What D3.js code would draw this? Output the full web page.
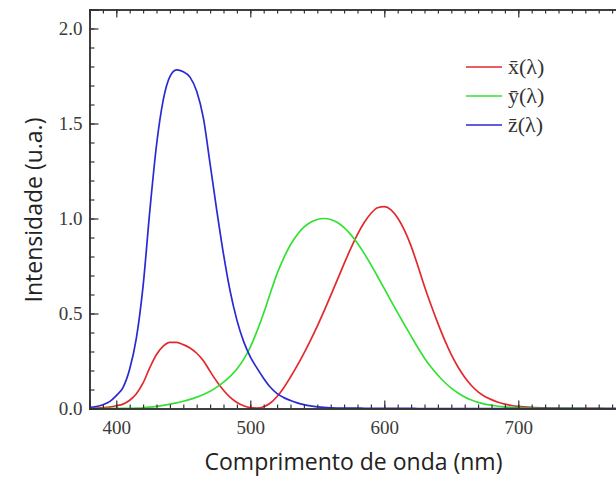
<!DOCTYPE html>
<html><head><meta charset="utf-8">
<script src="https://cdn.jsdelivr.net/npm/d3@7"></script>
<style>
html,body{margin:0;padding:0;background:#fff;}
svg{display:block;}
</style></head>
<body><svg id="chart" width="616" height="478"></svg>
<script>
// CIE 1931 2° colour matching functions
const wavelengths = [380,385,390,395,400,405,410,415,420,425,430,435,440,445,450,455,460,465,470,475,480,485,490,495,500,505,510,515,520,525,530,535,540,545,550,555,560,565,570,575,580,585,590,595,600,605,610,615,620,625,630,635,640,645,650,655,660,665,670,675,680,685,690,695,700,710,720,730,740,750,760,770,780];
const xBar = [0.001368,0.002236,0.004243,0.00765,0.01431,0.02319,0.04351,0.07763,0.13438,0.21477,0.2839,0.3285,0.34828,0.34806,0.3362,0.3187,0.2908,0.2511,0.19536,0.1421,0.09564,0.05795,0.03201,0.0147,0.0049,0.0024,0.0093,0.0291,0.06327,0.1096,0.1655,0.22575,0.2904,0.3597,0.43345,0.51205,0.5945,0.6784,0.7621,0.8425,0.9163,0.9786,1.0263,1.0567,1.0622,1.0456,1.0026,0.9384,0.85445,0.7514,0.6424,0.5419,0.4479,0.3608,0.2835,0.2187,0.1649,0.1212,0.0874,0.0636,0.04677,0.0329,0.0227,0.01584,0.011359,0.00579,0.002899,0.00144,0.00069,0.000332,0.000166,0.000083,0.000042];
const yBar = [0.000039,0.000064,0.00012,0.000217,0.000396,0.00064,0.00121,0.00218,0.004,0.0073,0.0116,0.01684,0.023,0.0298,0.038,0.048,0.06,0.0739,0.09098,0.1126,0.13902,0.1693,0.20802,0.2586,0.323,0.4073,0.503,0.6082,0.71,0.7932,0.862,0.91485,0.954,0.9803,0.99495,1.0,0.995,0.9786,0.952,0.9154,0.87,0.8163,0.757,0.6949,0.631,0.5668,0.503,0.4412,0.381,0.321,0.265,0.217,0.175,0.1382,0.107,0.0816,0.061,0.04458,0.032,0.0232,0.017,0.01192,0.00821,0.005723,0.004102,0.002091,0.001047,0.00052,0.000249,0.00012,0.00006,0.00003,0.000015];
const zBar = [0.00645,0.01055,0.02005,0.03621,0.06785,0.1102,0.2074,0.3713,0.6456,1.03905,1.3856,1.62296,1.74706,1.7826,1.77211,1.7441,1.6692,1.5281,1.28764,1.0419,0.81295,0.6162,0.46518,0.3533,0.272,0.2123,0.1582,0.1117,0.07825,0.05725,0.04216,0.02984,0.0203,0.0134,0.00875,0.00575,0.0039,0.00275,0.0021,0.0018,0.00165,0.0014,0.0011,0.001,0.0008,0.0006,0.00034,0.00024,0.00019,0.0001,0.00005,0.00003,0.00002,0.00001,0,0,0,0,0,0,0,0,0,0,0,0,0,0,0,0,0,0,0];
const seriesNames = ["x\u0304(\u03bb)","y\u0304(\u03bb)","z\u0304(\u03bb)"];
const xTicks = [400,500,600,700];
const yTicks = [0.0,0.5,1.0,1.5,2.0];

const colors = ["#e3292c","#33e133","#2a2ad2"];
const svg = d3.select("#chart");
const L = 89.5, R = 625.5, T = 9.5, B = 408.5;
const x = d3.scaleLinear().domain([380,780]).range([L,R]);
const y = d3.scaleLinear().domain([0,2.1]).range([B,T]);
const axisColor = "#333";

// curves
const series = [xBar,yBar,zBar];
const line = d3.line().x((d,i)=>x(wavelengths[i])).y(d=>y(d)).curve(d3.curveMonotoneX);
series.forEach((s,k)=>{
  svg.append("path").datum(s).attr("d",line).attr("fill","none")
    .attr("stroke",colors[k]).attr("stroke-width",1.7).attr("stroke-linejoin","round");
});

// frame axes with inward ticks
const minorX = d3.range(380,781,10);
const minorY = d3.range(0,2.1001,0.1).map(v=>+v.toFixed(2));
function tickFmt(v){return d3.format(".1f")(v);}
const gB = svg.append("g").attr("transform",`translate(0,${B})`)
  .call(d3.axisBottom(x).tickValues(minorX).tickSize(-4).tickFormat(""));
const gB2 = svg.append("g").attr("transform",`translate(0,${B})`)
  .call(d3.axisBottom(x).tickValues(xTicks).tickSize(-8).tickFormat(d3.format("d")));
const gT = svg.append("g").attr("transform",`translate(0,${T})`)
  .call(d3.axisTop(x).tickValues(minorX).tickSize(-4).tickFormat(""));
const gT2 = svg.append("g").attr("transform",`translate(0,${T})`)
  .call(d3.axisTop(x).tickValues(xTicks).tickSize(-8).tickFormat(""));
const gL = svg.append("g").attr("transform",`translate(${L},0)`)
  .call(d3.axisLeft(y).tickValues(minorY).tickSize(-5).tickFormat(""));
const gL2 = svg.append("g").attr("transform",`translate(${L},0)`)
  .call(d3.axisLeft(y).tickValues(yTicks).tickSize(-9).tickPadding(7).tickFormat(tickFmt));
const gR = svg.append("g").attr("transform",`translate(${R},0)`)
  .call(d3.axisRight(y).tickValues(minorY).tickSize(-5).tickFormat(""));
const gR2 = svg.append("g").attr("transform",`translate(${R},0)`)
  .call(d3.axisRight(y).tickValues(yTicks).tickSize(-9).tickFormat(""));
[gB,gB2,gT,gT2,gL,gL2,gR,gR2].forEach(g=>{
  g.select(".domain").attr("stroke",axisColor).attr("stroke-width",1.5);
  g.selectAll(".tick line").attr("stroke",axisColor).attr("stroke-width",1.2);
  g.selectAll(".tick text").attr("fill","#3a3a3a")
    .style("font-family","'Liberation Serif','Times New Roman',serif").style("font-size","19px");
});
gB2.selectAll(".tick text").attr("dy","0").attr("y",25);
gL2.selectAll(".tick text").attr("dy","0.34em");

// axis titles
const xt = svg.append("text").attr("x",(205+502)/2).attr("y",470).attr("text-anchor","middle")
  .style("font-family","'Open Sans',sans-serif").style("font-size","23px").attr("fill","#222")
  .text("Comprimento de onda (nm)");
const yt = svg.append("text").attr("transform","translate(42,210) rotate(-90)").attr("text-anchor","middle")
  .style("font-family","'Open Sans',sans-serif").style("font-size","23px").attr("fill","#222")
  .text("Intensidade (u.a.)");

// legend
const leg = svg.append("g");
seriesNames.forEach((n,k)=>{
  const ly = 67 + k*29;
  leg.append("line").attr("x1",466).attr("x2",502).attr("y1",ly).attr("y2",ly)
    .attr("stroke",colors[k]).attr("stroke-width",1.7);
  leg.append("text").attr("x",508).attr("y",ly+7).attr("fill","#333")
    .style("font-family","'Liberation Serif','Times New Roman',serif").style("font-size","22px")
    .text(n);
});
</script></body></html>
